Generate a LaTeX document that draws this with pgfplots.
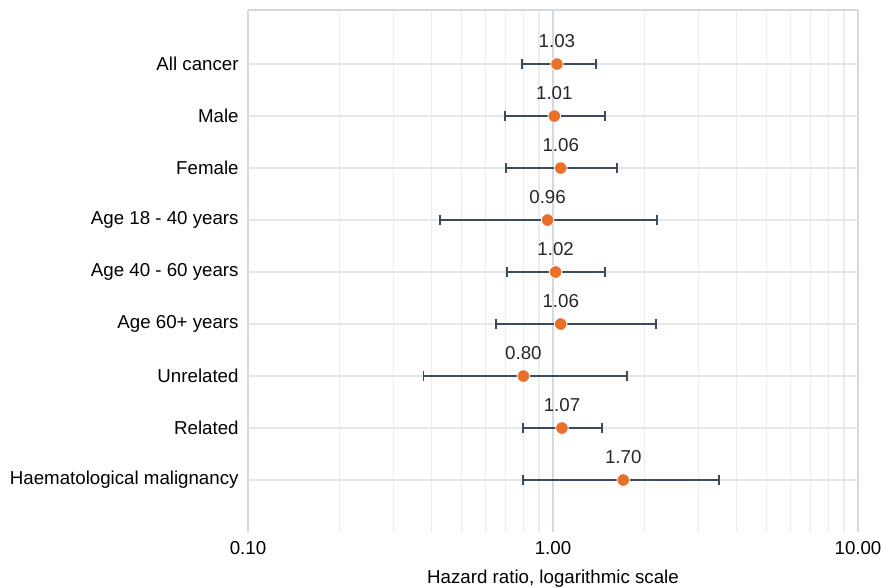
\documentclass[border=0pt]{standalone}
\usepackage{pgfplots}
\pgfplotsset{compat=1.18}
\usepackage{pgfplotstable}
\usepackage{fontspec}
\setmainfont{Liberation Sans}
\definecolor{dotc}{HTML}{E8702A}
\definecolor{barc}{HTML}{3D4A5C}
\definecolor{gmaj}{HTML}{D3D9E3}
\definecolor{gmin}{HTML}{E8EBF0}
\definecolor{gy}{HTML}{E3E6ED}
\pgfplotstableread{
idx hr lab
0 1.03 1.03
1 1.01 1.01
2 1.06 1.06
3 0.96 0.96
4 1.02 1.02
5 1.06 1.06
6 0.80 0.80
7 1.07 1.07
8 1.70 1.70
}\pts
\pgfplotstableread{
x y
0.79 0
1.38 0
nan nan
0.696 1
1.48 1
nan nan
0.70 2
1.62 2
nan nan
0.426 3
2.19 3
nan nan
0.708 4
1.48 4
nan nan
0.65 5
2.17 5
nan nan
0.376 6
1.75 6
nan nan
0.797 7
1.45 7
nan nan
0.797 8
3.50 8
}\segs
\begin{document}
\fontsize{18.7}{22}\selectfont
\begin{tikzpicture}
\useasboundingbox (-248pt,-56pt) rectangle (634pt,532pt);
\begin{axis}[
  at={(0,0)}, anchor=south west,
  scale only axis, width=610pt, height=522pt,
  xmode=log, xmin=0.1, xmax=10,
  ymin=-1.04, ymax=9, y dir=reverse,
  axis line style={draw=none},
  tick style={draw=none},
  /pgf/number format/assume math mode=true,
  xtick={0.1,1,10}, xticklabels={0.10,1.00,10.00},
  xticklabel style={yshift=-3pt},
  minor xtick={0.2,0.3,0.4,0.5,0.6,0.7,0.8,0.9,2,3,4,5,6,7,8,9},
  ytick={0,1,2,3,4,5,6,7,8},
  yticklabels={All cancer,Male,Female,Age 18 - 40 years,Age 40 - 60 years,Age 60+ years,Unrelated,Related,Haematological malignancy},
  yticklabel style={xshift=-3pt},
  xmajorgrids, xminorgrids, ymajorgrids,
  major x grid style={gmaj, line width=2pt},
  minor x grid style={gmin, line width=1.1pt},
  major y grid style={gy, line width=1.3pt},
  xlabel={Hazard ratio, logarithmic scale},
  xlabel style={yshift=-2.5pt},
  clip=false,
]
\draw[gmaj, line width=1.6pt] (axis cs:0.1,-1.04) -- (axis cs:10,-1.04);
\addplot[barc, line width=1.8pt, mark=|, mark size=5pt, mark options={solid, line width=1.8pt}, unbounded coords=jump] table[x=x, y=y] {\segs};
\addplot[only marks, mark=*, mark size=6.3pt, mark options={fill=dotc, draw=white, line width=0.8pt},
  point meta=explicit symbolic, nodes near coords,
  nodes near coords style={anchor=base, yshift=16.5pt, text=black!85}]
  table[x=hr, y=idx, meta=lab] {\pts};
\end{axis}
\end{tikzpicture}
\end{document}
